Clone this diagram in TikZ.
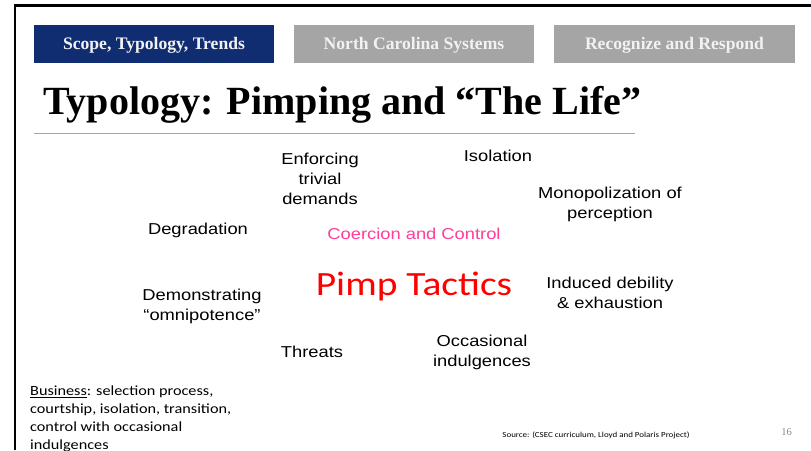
\documentclass[tikz,border=0pt]{standalone}
\usepackage{fontspec}
\setmainfont{Liberation Serif}
\newfontfamily\labfont[FakeStretch=1.16]{Liberation Sans}
\newfontfamily\calfont[FakeStretch=1.16]{Carlito}
\definecolor{navy}{HTML}{112D72}
\definecolor{tabgrey}{HTML}{A5A5A5}
\definecolor{pinkc}{HTML}{FF3D9A}
\definecolor{rulegrey}{HTML}{A6A6A6}
\definecolor{pagegrey}{HTML}{8C8C8C}
\begin{document}
\begin{tikzpicture}[x=1pt,y=-1pt,
  tabbox/.style={fill=#1, minimum width=240pt, minimum height=38pt, inner sep=0pt, anchor=north west},
  tabtext/.style={text=white!95!black, font=\bfseries\fontsize{17.6}{20}\selectfont, anchor=base, inner sep=0pt},
  lab/.style={font=\labfont\fontsize{15.8}{20}\selectfont, align=center, inner sep=0pt, anchor=base},
]
\useasboundingbox (0,0) rectangle (811,450);
\fill[white] (0,0) rectangle (811,450);
% frame
\draw[line width=2.5pt] (15,450) -- (15,5.5) -- (811,5.5);
% tabs
\node[tabbox=navy] (t1) at (34,25) {};
\node[tabbox=tabgrey] (t2) at (294,25) {};
\node[tabbox=tabgrey, minimum width=241pt] (t3) at (554,25) {};
\node[tabtext] (t1txt) at (154,49.3) {Scope, Typology, Trends};
\node[tabtext] (t2txt) at (414,49.3) {North Carolina Systems};
\node[tabtext] (t3txt) at (674.5,49.3) {Recognize and Respond};
% title
\node[anchor=base west, font=\bfseries\fontsize{40}{48}\selectfont, inner sep=0pt] (title) at (43,114) {Typology: Pimping and “The Life”};
\draw[rulegrey, line width=1pt] (34,133) -- (635,133);
% labels (anchor=base is the baseline of the last line)
\node[lab] (enf) at (320,204) {Enforcing\\trivial\\demands};
\node[lab] (iso) at (498,161.5) {Isolation};
\node[lab] (mono) at (610,218.5) {Monopolization of\\perception};
\node[lab] (deg) at (198,234.5) {Degradation};
\node[lab, text=pinkc] (coer) at (414,239.5) {Coercion and Control};
\node[anchor=base, inner sep=0pt, text=red, font=\calfont\fontsize{34}{40}\selectfont] (pimp) at (414,295) {Pimp Tactics};
\node[lab] (ind) at (610,308.5) {Induced debility\\\& exhaustion};
\node[lab] (dem) at (202,320.5) {Demonstrating\\“omnipotence”};
\node[lab] (thr) at (312,357.5) {Threats};
\node[lab] (occ) at (482,366) {Occasional\\indulgences};
% business text
\node[anchor=base west, font=\calfont\fontsize{14}{17.8}\selectfont, align=left, inner sep=0pt] (biz) at (30,449.1) {\underline{Business}: selection process,\\courtship, isolation, transition,\\control with occasional\\indulgences};
% footer
\node[anchor=base, inner sep=0pt, font=\calfont\fontsize{7.7}{9}\selectfont] (src) at (596,437) {Source: (CSEC curriculum, Lloyd and Polaris Project)};
\node[anchor=base, inner sep=0pt, text=pagegrey, font=\fontsize{10.5}{12}\selectfont] (pg) at (786.5,435) {16};
\end{tikzpicture}
\end{document}
